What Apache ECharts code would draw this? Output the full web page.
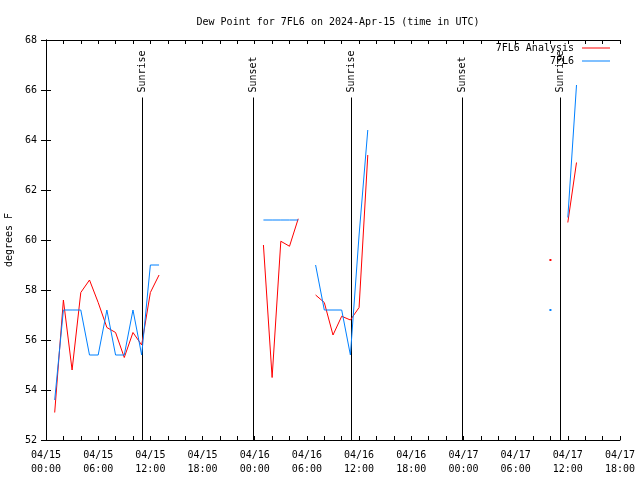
<!DOCTYPE html>
<html>
<head>
<meta charset="utf-8">
<script src="https://cdn.jsdelivr.net/npm/echarts@6/dist/echarts.min.js"></script>
<style>html,body{margin:0;padding:0;background:#fff}#c{width:640px;height:480px}</style>
</head>
<body>
<div id="c"></div>
<script>
// hours since 2024-04-15 00:00 UTC ; null = gap
const hours    = [1,2,3,4,5,6,7,8,9,10,11,12,13, 18, 25,26,27,28,29, 30, 31,32,33,34,35,36,37, 45, 58, 59, 60,61];
const analysis = [53.1,57.6,54.8,57.9,58.4,57.5,56.5,56.3,55.3,56.3,55.8,57.9,58.6, null, 59.8,54.5,59.95,59.75,60.85, null, 57.8,57.5,56.2,56.95,56.8,57.3,63.4, null, 59.2, null, 60.7,63.1];
const observed = [53.6,57.2,57.2,57.2,55.4,55.4,57.2,55.4,55.4,57.2,55.4,59.0,59.0, null, 60.8,60.8,60.8,60.8,60.8, null, 59.0,57.2,57.2,57.2,55.4,60.2,64.4, null, 57.2, null, 60.9,66.2];
const eventHours  = [11.05, 23.8, 35.07, 47.8, 59.1];
const eventLabels = ['Sunrise','Sunset','Sunrise','Sunset','Sunrise'];
const eventTop = 65.7;
const yTicks = [52,54,56,58,60,62,64,66,68];

const FONT = 'DejaVu Sans Mono';
function build(vals){
  return hours.map((h,i)=>{
    const v = vals[i];
    if (v == null) return [h,'-'];
    const iso = (i===0 || vals[i-1]==null) && (i===vals.length-1 || vals[i+1]==null);
    if (iso) return {value:[h,v], symbol:'rect', symbolSize:2};
    return [h,v];
  });
}
function pad(n){return (n<10?'0':'')+n;}
const chart = echarts.init(document.getElementById('c'), null, {renderer:'canvas'});
chart.setOption({
  animation:false,
  backgroundColor:'#fff',
  title:{text:'Dew Point for 7FL6 on 2024-Apr-15 (time in UTC)', left:333, textAlign:'center', top:12,
    textStyle:{fontFamily:FONT,fontSize:10,fontWeight:'normal',color:'#000'}},
  legend:{data:['7FL6 Analysis','7FL6'], orient:'vertical', right:25, top:38, align:'right',
    itemWidth:28, itemHeight:1, itemGap:3, icon:'rect',
    textStyle:{fontFamily:FONT,fontSize:10,color:'#000',padding:[0,3,0,0]}},
  grid:{left:46,right:20,top:40,bottom:40,containLabel:false,outerBoundsMode:'none'},
  xAxis:[{type:'value',min:0,max:66,interval:2,
    axisLine:{lineStyle:{color:'#000',width:1}},
    axisTick:{inside:true,length:4,lineStyle:{color:'#000'}},
    splitLine:{show:false},
    axisLabel:{margin:8,fontFamily:FONT,fontSize:10,color:'#000',lineHeight:14,
      formatter:v=>{ if(v%6!==0) return ''; const d=15+Math.floor(v/24); return '04/'+d+'\n'+pad(v%24)+':00';}}},
    {type:'value',min:0,max:66,interval:2,position:'top',
    axisLine:{show:true,lineStyle:{color:'#000',width:1}},
    axisTick:{inside:true,length:4,lineStyle:{color:'#000'}},
    axisLabel:{show:false},splitLine:{show:false}}],
  yAxis:[{type:'value',min:yTicks[0],max:yTicks[yTicks.length-1],interval:2,
    name:'degrees F',nameLocation:'middle',nameGap:28,
    nameTextStyle:{fontFamily:FONT,fontSize:10,color:'#000'},
    axisLine:{show:true,lineStyle:{color:'#000',width:1}},
    axisTick:{show:true,inside:true,length:5,lineStyle:{color:'#000'}},
    splitLine:{show:false},
    axisLabel:{margin:9,fontFamily:FONT,fontSize:10,color:'#000'}},
    {type:'value',min:yTicks[0],max:yTicks[yTicks.length-1],interval:2,position:'right',
    axisLine:{show:true,lineStyle:{color:'#000',width:1}},
    axisTick:{show:true,inside:true,length:5,lineStyle:{color:'#000'}},
    axisLabel:{show:false},splitLine:{show:false}}],
  series:[
    {name:'7FL6 Analysis',type:'line',data:build(analysis),symbol:'none',showSymbol:true,
      color:'#ff0000',lineStyle:{width:1,color:'#ff0000'},itemStyle:{color:'#ff0000'},connectNulls:false},
    {name:'7FL6',type:'line',data:build(observed),symbol:'none',showSymbol:true,
      color:'#0080ff',lineStyle:{width:1,color:'#0080ff'},itemStyle:{color:'#0080ff'},connectNulls:false},
    {name:'events',type:'custom',data:eventHours.map((h,i)=>[h,i]),silent:true,
      renderItem:(params,api)=>{
        const h = api.value(0), i = api.value(1);
        const p0 = api.coord([h,52]), p1 = api.coord([h,eventTop]);
        const x = Math.round(p0[0])+0.5;
        return {type:'group',children:[
          {type:'line',shape:{x1:x,y1:p0[1],x2:x,y2:p1[1]},style:{stroke:'#000',lineWidth:1}},
          {type:'text',x:x,y:p1[1]-5,rotation:Math.PI/2,
            style:{text:eventLabels[i],font:'10px '+FONT,fill:'#000',align:'left',verticalAlign:'middle'}}
        ]};
      }}
  ]
});
</script>
</body>
</html>
